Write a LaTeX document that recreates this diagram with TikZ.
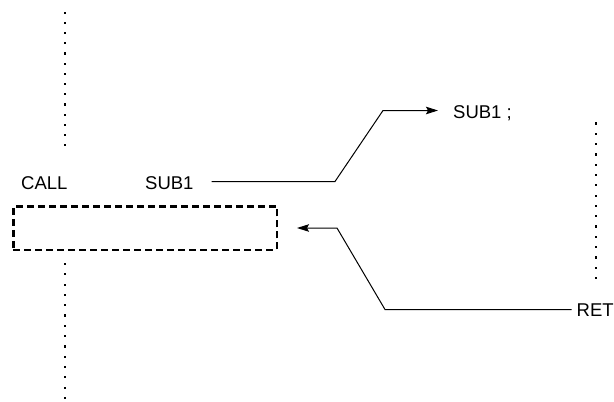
\documentclass[tikz,border=0pt]{standalone}
\usepackage{fontspec}
\setmainfont{Liberation Sans}
\usetikzlibrary{arrows.meta}
\begin{document}
\begin{tikzpicture}[x=1pt,y=-1pt,
  lbl/.style={inner sep=0pt,font=\fontsize{18.5}{20}\selectfont,anchor=base west},
  conn/.style={line width=1pt,line join=miter},
  arr/.style={-{Stealth[length=12pt,width=7.5pt,inset=2pt]}},
  dbox/.style={draw,line width=2.5pt,dash pattern=on 7pt off 4pt,minimum width=263.5pt,minimum height=43.5pt,inner sep=0pt}]
\useasboundingbox (0,0) rectangle (614,402);
% dotted columns
\foreach \i in {0,...,13} {\fill (65,12.7+10.2*\i) +(-1.1,-1.1) rectangle +(1.1,1.1);}
\foreach \i in {0,...,13} {\fill (65,264+10.3*\i) +(-1.1,-1.1) rectangle +(1.1,1.1);}
\foreach \i in {0,...,15} {\fill (596,123.5+10.3*\i) +(-1.1,-1.1) rectangle +(1.1,1.1);}
% texts
\node[lbl] (call) at (21,189) {CALL};
\node[lbl] (sub1) at (145,189) {SUB1};
\node[lbl] (sub1t) at (453,118) {SUB1 ;};
\node[lbl] (ret) at (576.5,316) {RET};
% box
\node[dbox] (box) at (145,228) {};
% connectors
\coordinate (a1) at (335,181.5);
\coordinate (a2) at (383,110.5);
\coordinate (tip1) at (438,110.5);
\draw[conn,arr,shorten <=18pt] (sub1.east |- a1) -- (a1) -- (a2) -- (tip1);
\coordinate (b1) at (385,309.5);
\coordinate (b2) at (337,228);
\draw[conn,arr,shorten <=5pt,shorten >=19pt] (ret.west |- b1) -- (b1) -- (b2) -- (box.east);
\end{tikzpicture}
\end{document}
